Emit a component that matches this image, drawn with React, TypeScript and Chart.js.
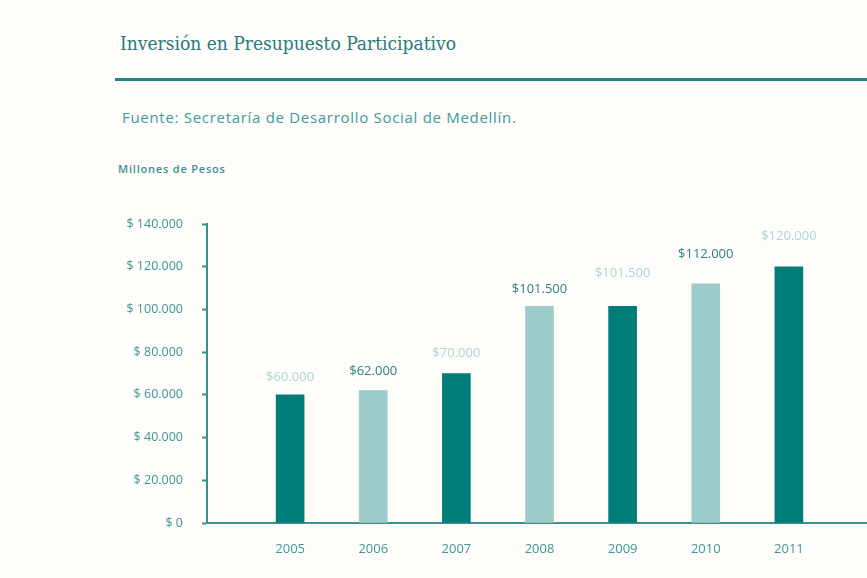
import React, { useEffect, useRef } from "react";
import { Chart, registerables } from "chart.js";

Chart.register(...registerables);

const years = ["2005", "2006", "2007", "2008", "2009", "2010", "2011"];
const values = [60000, 62000, 70000, 101500, 101500, 112000, 120000];
const valueLabels = ["$60.000", "$62.000", "$70.000", "$101.500", "$101.500", "$112.000", "$120.000"];
const yTicks = [0, 20000, 40000, 60000, 80000, 100000, 120000, 140000];
// style: how far (px) each value label sits above its bar
const labelLift = [18, 19, 20, 17, 33, 30, 30];

const DARK = "#007d78";
const LIGHT = "#9ccbca";
const BG = "#fefdf9";

function fmtTick(v: number): string {
  if (v === 0) return "$ 0";
  const s = String(v).replace(/\B(?=(\d{3})+(?!\d))/g, ".");
  return "$ " + s;
}

export default function App() {
  const ref = useRef<HTMLCanvasElement | null>(null);
  useEffect(() => {
    if (!ref.current) return;
    const labels = ["", ...years, ""];
    const data = [null, ...values, null];
    const barColors = ["", ...years.map((_, i) => (i % 2 === 0 ? DARK : LIGHT)), ""];
    const labelColors = years.map((_, i) => (i % 2 === 0 ? "#acd5d4" : "#2f7f82"));

    const valueLabelPlugin = {
      id: "valueLabels",
      afterDatasetsDraw(chart: any) {
        const meta = chart.getDatasetMeta(0);
        const ctx = chart.ctx;
        ctx.save();
        ctx.font = "13px 'Open Sans'";
        ctx.textAlign = "center";
        ctx.textBaseline = "middle";
        years.forEach((_, i) => {
          const el = meta.data[i + 1];
          if (!el) return;
          ctx.fillStyle = labelColors[i];
          ctx.fillText(valueLabels[i], el.x, el.y - labelLift[i]);
        });
        ctx.restore();
      },
    };

    const chart = new Chart(ref.current, {
      type: "bar",
      data: {
        labels,
        datasets: [
          {
            data: data as any,
            backgroundColor: barColors,
            barThickness: 28,
          },
        ],
      },
      options: {
        animation: false,
        responsive: false,
        layout: { padding: { top: 224, right: 0, left: 0, bottom: 0 } },
        plugins: { legend: { display: false }, tooltip: { enabled: false } },
        scales: {
          x: {
            offset: false,
            grid: { drawOnChartArea: false, drawTicks: false },
            border: { display: true, color: "#3c918f", width: 2 },
            ticks: {
              padding: 18,
              color: "#3f9597",
              font: { family: "Open Sans", size: 13 },
              maxRotation: 0,
              autoSkip: false,
            },
            afterFit: (s: any) => {
              s.height = 55;
            },
          },
          y: {
            min: 0,
            max: 140000,
            afterBuildTicks: (s: any) => {
              s.ticks = yTicks.map((v) => ({ value: v }));
            },
            grid: { drawOnChartArea: false, drawTicks: true, tickLength: 5, tickColor: "#3c918f", tickWidth: 2 },
            border: { display: true, color: "#3c918f", width: 2 },
            ticks: {
              padding: 19,
              color: "#3f9597",
              font: { family: "Open Sans", size: 12.5 },
              callback: (v: any) => fmtTick(Number(v)),
            },
            afterFit: (s: any) => {
              s.width = 207;
            },
          },
        },
      },
      plugins: [valueLabelPlugin],
    });
    return () => chart.destroy();
  }, []);

  return (
    <div
      style={{
        position: "absolute",
        left: 0,
        top: 0,
        width: 867,
        height: 578,
        overflow: "hidden",
        background: BG,
      }}
    >
      <div
        style={{
          position: "absolute",
          left: 120,
          top: 30,
          fontFamily: "'DejaVu Serif Condensed', 'DejaVu Serif', serif",
          fontSize: 19,
          color: "#267a7d",
          whiteSpace: "nowrap",
          lineHeight: "26px",
        }}
      >
        Inversión en Presupuesto Participativo
      </div>
      <div
        style={{
          position: "absolute",
          left: 115,
          top: 78,
          width: 760,
          height: 3,
          background: "#1f8582",
        }}
      />
      <div
        style={{
          position: "absolute",
          left: 122,
          top: 106,
          fontFamily: "'Open Sans', sans-serif",
          fontSize: 15,
          letterSpacing: 0.7,
          color: "#3f9a9c",
          whiteSpace: "nowrap",
          lineHeight: "22px",
        }}
      >
        Fuente: Secretaría de Desarrollo Social de Medellín.
      </div>
      <div
        style={{
          position: "absolute",
          left: 118,
          top: 161,
          fontFamily: "'Open Sans', sans-serif",
          fontSize: 11,
          fontWeight: 600,
          letterSpacing: 0.8,
          color: "#3f8f92",
          whiteSpace: "nowrap",
          lineHeight: "16px",
        }}
      >
        Millones de Pesos
      </div>
      <canvas
        ref={ref}
        width={890}
        height={578}
        style={{ position: "absolute", left: 0, top: 0, width: 890, height: 578 }}
      />
    </div>
  );
}
